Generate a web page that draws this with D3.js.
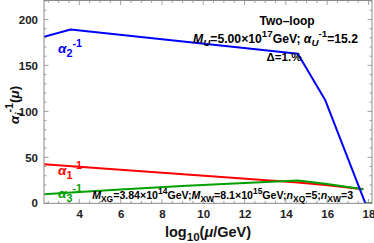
<!DOCTYPE html>
<html>
<head>
<meta charset="utf-8">
<script src="https://cdn.jsdelivr.net/npm/d3@7"></script>
<style>
  body { margin: 0; background: #fff; }
  svg { display: block; font-family: "Liberation Sans", Arial, sans-serif; font-weight: bold; }
</style>
</head>
<body>
<svg id="chart" width="374" height="243"></svg>
<script>
// log10(mu/GeV) break points and inverse couplings
const alpha2X = [2.29, 3.58, 14.58, 15.91, 17.85];
const alpha2Y = [181, 189, 162.7, 112, 0];

const alpha1X = [2.29, 9.2, 14.58, 15.91, 17.75];
const alpha1Y = [42.6, 31.3, 22.7, 19.8, 15.3];

const alpha3X = [2.29, 4, 6, 9.2, 12, 14.58, 15.91, 17.75];
const alpha3Y = [9.8, 12.3, 14.9, 19.0, 22.2, 24.9, 21.2, 15.3];

// flat piece lying on the axis past the blue end
const alpha3TailX = [17.85, 18.17];
const alpha3TailY = [0, 0];

const xMajorTicks = [4, 6, 8, 10, 12, 14, 16, 18];
const yMajorTicks = [0, 50, 100, 150, 200];

const width = 374, height = 243;
const plot = { left: 44, right: 372, top: 0.5, bottom: 203.3 };

const x = d3.scaleLinear().domain([2.29, 18.17]).range([plot.left, plot.right]);
const y = d3.scaleLinear().domain([0, 220.6]).range([plot.bottom, plot.top]);

const svg = d3.select("#chart");
const frameColor = "#8a8a8a";

// clip the curves to the frame
svg.append("clipPath").attr("id", "clip")
    .append("rect")
    .attr("x", plot.left).attr("y", plot.top)
    .attr("width", plot.right - plot.left).attr("height", plot.bottom - plot.top);

const curves = svg.append("g").attr("clip-path", "url(#clip)");
const line = d3.line().x(d => x(d[0])).y(d => y(d[1]));

function drawCurve(xs, ys, color) {
    curves.append("path")
        .datum(d3.zip(xs, ys))
        .attr("d", line)
        .attr("fill", "none")
        .attr("stroke", color)
        .attr("stroke-width", 2)
        .attr("stroke-linejoin", "round");
}

drawCurve(alpha1X, alpha1Y, "#ff0000");
drawCurve(alpha3X, alpha3Y, "#00a000");
drawCurve(alpha3TailX, alpha3TailY, "#00a000");
drawCurve(alpha2X, alpha2Y, "#0000ff");

// frame with inward ticks on all sides (Mathematica style)
const xMinor = d3.range(2.5, 18.01, 0.5);
const yMinor = d3.range(0, 220.1, 10);

const bottomAxis = d3.axisBottom(x).tickValues(xMajorTicks).tickSize(0).tickPadding(7)
    .tickFormat(d3.format("d"));
const leftAxis = d3.axisLeft(y).tickValues(yMajorTicks).tickSize(0).tickPadding(6)
    .tickFormat(d3.format("d"));

const gb = svg.append("g").attr("transform", `translate(0,${plot.bottom})`).call(bottomAxis);
const gl = svg.append("g").attr("transform", `translate(${plot.left},0)`).call(leftAxis);
[gb, gl].forEach(g => {
    g.select(".domain").remove();
    g.selectAll("text")
        .attr("fill", "#222")
        .style("font-size", "11.5px")
        .style("font-weight", "bold")
        .style("font-family", "'Liberation Sans', Arial, sans-serif");
});

const ticks = svg.append("g").attr("stroke", frameColor).attr("stroke-width", 0.8);
xMinor.forEach(v => {
    const len = xMajorTicks.includes(v) ? 4.5 : 2.5;
    ticks.append("line").attr("x1", x(v)).attr("x2", x(v))
        .attr("y1", plot.bottom).attr("y2", plot.bottom - len);
    ticks.append("line").attr("x1", x(v)).attr("x2", x(v))
        .attr("y1", plot.top).attr("y2", plot.top + len);
});
yMinor.forEach(v => {
    const len = yMajorTicks.includes(v) ? 4.5 : 2.5;
    ticks.append("line").attr("y1", y(v)).attr("y2", y(v))
        .attr("x1", plot.left).attr("x2", plot.left + len);
    ticks.append("line").attr("y1", y(v)).attr("y2", y(v))
        .attr("x1", plot.right).attr("x2", plot.right - len);
});

svg.append("rect")
    .attr("x", plot.left).attr("y", plot.top)
    .attr("width", plot.right - plot.left).attr("height", plot.bottom - plot.top)
    .attr("fill", "none").attr("stroke", frameColor).attr("stroke-width", 1);

// rich text: segments of [text, kind] where kind is "", "i", "sub", "sup", "isub"
function richText(g, parts, size, color) {
    const t = g.append("text").attr("fill", color).style("font-size", size + "px");
    let shift = 0;
    parts.forEach(([str, kind]) => {
        let target = 0;
        if (kind.includes("sub")) target = size * 0.3;
        if (kind.includes("sup")) target = -size * 0.45;
        const ts = t.append("tspan").text(str).attr("dy", target - shift);
        shift = target;
        if (kind.includes("sub") || kind.includes("sup")) ts.style("font-size", (size * 0.8) + "px");
        if (kind.includes("i")) ts.style("font-style", "italic");
    });
    return t;
}

// curve labels
const labels = svg.append("g");
richText(labels, [["α", "i"], ["2", "sub"], ["-1", "sup"]], 13.5, "#0000ff")
    .attr("x", x(2.97)).attr("y", y(163.5));
richText(labels, [["α", "i"], ["1", "sub"], ["-1", "sup"]], 13.5, "#ff0000")
    .attr("x", x(2.97)).attr("y", y(30.8));
richText(labels, [["α", "i"], ["3", "sub"], ["-1", "sup"]], 13.5, "#00a000")
    .attr("x", x(2.97)).attr("y", y(5.4));

// annotations
richText(labels, [["Two–loop", ""]], 12, "#000")
    .attr("x", x(14.06)).attr("y", y(194)).attr("text-anchor", "middle");
richText(labels, [["M", "i"], ["U", "isub"], ["=5.00×10", ""], ["17", "sup"], ["GeV; ", ""],
                  ["α", "i"], ["U", "isub"], ["-1", "sup"], ["=15.2", ""]], 12.2, "#000")
    .attr("x", x(13.5)).attr("y", y(174.8)).attr("text-anchor", "middle");
richText(labels, [["Δ=1.%", ""]], 11.5, "#000")
    .attr("x", x(13.91)).attr("y", y(155)).attr("text-anchor", "middle");
richText(labels, [["M", "i"], ["XG", "sub"], ["=3.84×10", ""], ["14", "sup"], ["GeV;", ""],
                  ["M", "i"], ["XW", "sub"], ["=8.1×10", ""], ["15", "sup"], ["GeV;", ""],
                  ["n", "i"], ["XQ", "sub"], ["=5;", ""], ["n", "i"], ["XW", "sub"], ["=3", ""]], 10.6, "#000")
    .attr("x", x(4.62)).attr("y", y(4.7));

// axis titles
richText(svg, [["log", ""], ["10", "sub"], ["(", ""], ["μ", "i"], ["/GeV)", ""]], 14.5, "#111")
    .attr("x", (plot.left + plot.right) / 2).attr("y", 237).attr("text-anchor", "middle");
richText(svg, [["α", "i"], ["i", "isub"], ["-1", "sup"], ["(", ""], ["μ", "i"], [")", ""]], 13.5, "#111")
    .attr("text-anchor", "middle")
    .attr("transform", `translate(19,${(plot.top + plot.bottom) / 2 + 3}) rotate(-90)`);
</script>
</body>
</html>
